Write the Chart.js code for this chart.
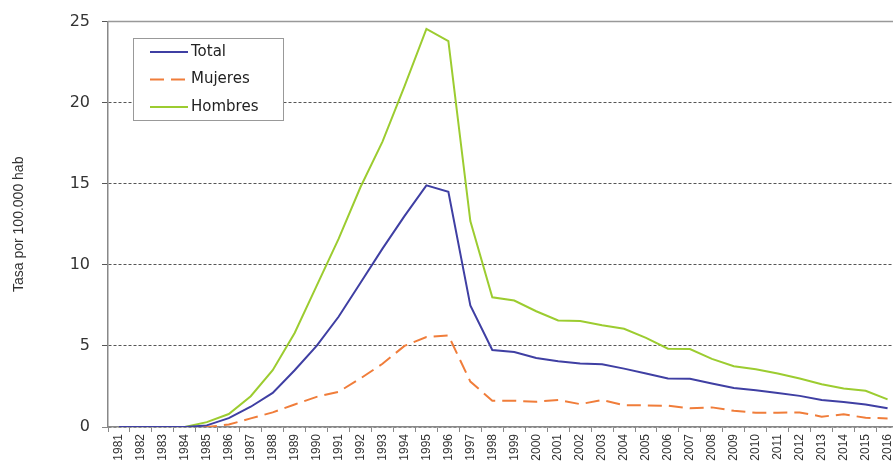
<!DOCTYPE html>
<html>
<head>
<meta charset="utf-8">
<script src="https://cdn.jsdelivr.net/npm/chart.js@4"></script>
<style>
body { margin: 0; overflow: hidden; background: #fff; }
#wrap { width: 904px; height: 466px; }
</style>
</head>
<body>
<div id="wrap"><canvas id="lineChart" width="904" height="466"></canvas></div>
<script>
let years = ["1981", "1982", "1983", "1984", "1985", "1986", "1987", "1988", "1989", "1990",
    "1991", "1992", "1993", "1994", "1995", "1996", "1997", "1998", "1999", "2000",
    "2001", "2002", "2003", "2004", "2005", "2006", "2007", "2008", "2009", "2010",
    "2011", "2012", "2013", "2014", "2015", "2016"];
let total = [0, 0, 0, 0, 0.1, 0.55, 1.25, 2.1, 3.5, 5.0, 6.8, 8.9, 11.0, 13.0, 14.9, 14.5, 7.5, 4.75,
    4.63, 4.26, 4.05, 3.91, 3.87, 3.6, 3.3, 2.99, 2.97, 2.68, 2.4, 2.27, 2.1, 1.92, 1.66, 1.54, 1.39, 1.15];
let mujeres = [0, 0, 0, 0, 0, 0.15, 0.53, 0.9, 1.39, 1.86, 2.17, 3.0, 3.9, 5.0, 5.55, 5.65, 2.8, 1.62,
    1.62, 1.56, 1.66, 1.41, 1.66, 1.35, 1.33, 1.31, 1.15, 1.21, 1.0, 0.88, 0.88, 0.9, 0.64, 0.78, 0.57, 0.53];
let hombres = [0, 0, 0, 0, 0.3, 0.8, 1.9, 3.5, 5.8, 8.7, 11.6, 14.8, 17.6, 21.0, 24.55, 23.8, 12.7, 8.0,
    7.8, 7.14, 6.57, 6.53, 6.27, 6.06, 5.5, 4.83, 4.81, 4.2, 3.75, 3.56, 3.3, 2.99, 2.64, 2.38, 2.23, 1.7];
let yTicks = [0, 5, 10, 15, 20, 25];

// top frame line + legend box drawn inside the plot, like the original
const frameAndLegend = {
    id: 'frameAndLegend',
    afterDraw(chart) {
        const ctx = chart.ctx;
        const area = chart.chartArea;
        ctx.save();
        ctx.strokeStyle = '#999';
        ctx.lineWidth = 1.5;
        ctx.beginPath();
        ctx.moveTo(area.left, area.top);
        ctx.lineTo(area.right, area.top);
        ctx.stroke();

        ctx.fillStyle = '#fff';
        ctx.fillRect(133.5, 38.5, 150, 82);
        ctx.strokeStyle = '#999';
        ctx.lineWidth = 1;
        ctx.strokeRect(133.5, 38.5, 150, 82);

        ctx.font = '15px "DejaVu Sans"';
        ctx.textBaseline = 'middle';
        chart.data.datasets.forEach((ds, i) => {
            let y = 52 + i * 27.5;
            ctx.strokeStyle = ds.borderColor;
            ctx.lineWidth = 2;
            ctx.setLineDash(ds.borderDash || []);
            ctx.beginPath();
            ctx.moveTo(150, y);
            ctx.lineTo(188, y);
            ctx.stroke();
            ctx.setLineDash([]);
            ctx.fillStyle = '#222';
            ctx.fillText(ds.label, 191, y);
        });
        ctx.restore();
    }
};

let ctxL = document.getElementById("lineChart").getContext('2d');

let myLineChart = new Chart(ctxL, {
    type: 'line',
    data: {
        labels: years,
        datasets: [{
            label: "Total",
            data: total,
            borderColor: '#3f3fa3',
            borderWidth: 2
        },
        {
            label: "Mujeres",
            data: mujeres,
            borderColor: '#f07d3a',
            borderDash: [14, 7],
            borderWidth: 2
        },
        {
            label: "Hombres",
            data: hombres,
            borderColor: '#9ccc30',
            borderWidth: 2
        }]
    },
    options: {
        responsive: false,
        animation: false,
        layout: { padding: { top: 20, right: 2, left: 0, bottom: 0 } },
        elements: { point: { radius: 0 }, line: { tension: 0 } },
        plugins: {
            legend: { display: false },
            tooltip: { enabled: false }
        },
        scales: {
            x: {
                offset: true,
                grid: { display: true, drawOnChartArea: false, drawTicks: true, tickLength: 5, color: '#888', offset: true },
                border: { display: true, color: '#888', width: 1.5 },
                ticks: {
                    autoSkip: false, minRotation: 90, maxRotation: 90, padding: 2,
                    font: { family: 'Liberation Sans', size: 12 }, color: '#333'
                },
                afterFit(scale) { scale.height = 39; }
            },
            y: {
                min: 0,
                max: 25,
                afterBuildTicks(scale) { scale.ticks = yTicks.map(v => ({ value: v })); },
                ticks: { font: { family: 'DejaVu Sans', size: 16 }, color: '#333', padding: 12 },
                grid: {
                    color: c => (c.tick && c.tick.value === 0) ? '#888' : '#555',
                    lineWidth: 1, tickLength: 6
                },
                border: { display: true, color: '#888', width: 1.5, dash: [3, 2] },
                title: {
                    display: true, text: 'Tasa por 100.000 hab',
                    font: { family: 'Liberation Sans', size: 14 }, color: '#333',
                    padding: { top: 11, bottom: 0 }
                },
                afterFit(scale) { scale.width = 108; }
            }
        }
    },
    plugins: [frameAndLegend]
});
</script>
</body>
</html>
